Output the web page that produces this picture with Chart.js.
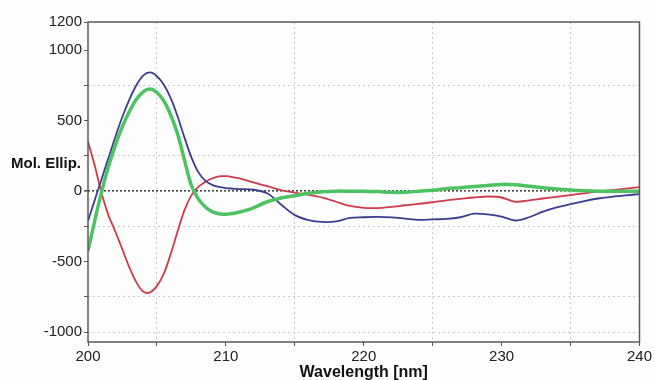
<!DOCTYPE html>
<html>
<head>
<meta charset="utf-8">
<script src="https://cdn.jsdelivr.net/npm/chart.js@4.4.1/dist/chart.umd.min.js"></script>
<style>
  html, body { margin: 0; padding: 0; background: #fdfdfd; }
  #wrap { width: 654px; height: 380px; position: relative; }
</style>
</head>
<body>
<div id="wrap"><canvas id="cd"></canvas></div>
<script>
// wavelength grid (nm) shared by all three spectra
const wavelengths = [200, 200.5, 201, 201.5, 202, 202.5, 203, 203.5, 204, 204.5, 205, 205.5, 206, 206.5, 207, 207.5, 208, 208.5, 209, 209.5, 210, 210.5, 211, 212, 213, 214, 215, 216, 217, 218, 219, 220, 221, 222, 223, 224, 225, 226, 227, 228, 229, 230, 231, 232, 233, 234, 235, 236, 237, 238, 239, 240];

const blueSeries = [-211, -60, 90, 240, 390, 530, 650, 750, 820, 842, 815, 755, 660, 530, 380, 240, 135, 75, 45, 30, 22, 18, 15, 10, -15, -95, -170, -205, -218, -215, -190, -185, -183, -186, -195, -204, -200, -197, -185, -160, -165, -180, -208, -185, -145, -115, -92, -70, -52, -40, -30, -21];

const greenSeries = [-423, -205, 0, 180, 330, 460, 565, 650, 705, 725, 700, 640, 540, 405, 220, 40, -55, -110, -145, -160, -164, -158, -148, -118, -75, -48, -32, -15, -5, 0, 0, 0, -3, -8, -8, 0, 7, 18, 25, 33, 40, 48, 45, 35, 25, 15, 8, 3, 0, 0, 0, 0];

const redSeries = [352, 176, -20, -175, -290, -415, -540, -645, -712, -718, -672, -585, -445, -285, -135, -30, 30, 65, 90, 105, 106, 100, 90, 62, 35, 8, -10, -25, -45, -75, -105, -118, -120, -112, -100, -90, -78, -65, -55, -45, -38, -45, -75, -65, -52, -40, -28, -15, -3, 8, 18, 28];

const yTicks = [-1000, -750, -500, -250, 0, 250, 500, 750, 1000, 1200];
const yLabelled = [-1000, -500, 0, 500, 1000, 1200];
const yGrid = [-1000, -750, -250, 250, 750];
const xTicks = [200, 205, 210, 215, 220, 225, 230, 235, 240];
const xLabelled = [200, 210, 220, 230, 240];
const xGrid = [205, 215, 225, 235];

const toPoints = (ys) => wavelengths.map((x, i) => ({ x: x, y: ys[i] }));

const FONT = "'Liberation Sans', Arial, sans-serif";

// frame round the plot + horizontal y title
const framePlugin = {
  id: 'frame',
  afterDraw(chart) {
    const { ctx, chartArea } = chart;
    ctx.save();
    ctx.strokeStyle = '#5a5a5a';
    ctx.lineWidth = 1.5;
    ctx.strokeRect(chartArea.left, chartArea.top, chartArea.right - chartArea.left, chartArea.bottom - chartArea.top);
    ctx.fillStyle = '#111';
    ctx.font = 'bold 15px ' + FONT;
    ctx.textAlign = 'left';
    ctx.textBaseline = 'middle';
    ctx.fillText('Mol. Ellip.', 11, 164);
    ctx.restore();
  }
};

const lineDs = (label, ys, color, width) => ({
  label: label,
  data: toPoints(ys),
  borderColor: color,
  borderWidth: width,
  pointRadius: 0,
  fill: false,
  tension: 0.35
});

new Chart(document.getElementById('cd'), {
  type: 'line',
  data: {
    datasets: [
      lineDs('green', greenSeries, '#4cc262', 3.5),
      lineDs('blue', blueSeries, '#3b3d8e', 1.8),
      lineDs('red', redSeries, '#d03a4c', 1.8)
    ]
  },
  options: {
    responsive: true,
    maintainAspectRatio: false,
    animation: false,
    layout: { padding: { top: 22, right: 14, left: 0, bottom: 0 } },
    plugins: { legend: { display: false }, tooltip: { enabled: false } },
    scales: {
      x: {
        type: 'linear',
        min: 200,
        max: 240,
        afterBuildTicks: (s) => { s.ticks = xTicks.map(v => ({ value: v })); },
        afterFit: (s) => { s.height = 38; },
        grid: {
          color: (c) => (c.tick && xGrid.includes(c.tick.value)) ? '#c9c9c9' : 'rgba(0,0,0,0)',
          tickColor: '#555',
          tickLength: 4,
          lineWidth: 1
        },
        border: { display: false, dash: (c) => c.tick ? [2, 3] : [] },
        ticks: {
          color: '#222',
          font: { size: 15, family: FONT },
          padding: 2,
          maxRotation: 0,
          callback: (v) => xLabelled.includes(v) ? String(v) : ''
        },
        title: {
          display: true,
          text: 'Wavelength [nm]',
          color: '#111',
          font: { size: 16, weight: 'bold', family: FONT },
          padding: { top: 0, bottom: -2 }
        }
      },
      y: {
        min: -1070,
        max: 1200,
        afterBuildTicks: (s) => { s.ticks = yTicks.map(v => ({ value: v })); },
        afterFit: (s) => { s.width = 88; },
        grid: {
          color: (c) => {
            if (!c.tick) return 'rgba(0,0,0,0)';
            if (c.tick.value === 0) return '#444';
            return yGrid.includes(c.tick.value) ? '#c9c9c9' : 'rgba(0,0,0,0)';
          },
          lineWidth: (c) => (c.tick && c.tick.value === 0) ? 1.6 : 1,
          tickColor: '#555',
          tickLength: 4
        },
        border: { display: false, dash: (c) => c.tick ? (c.tick.value === 0 ? [2, 2] : [2, 3]) : [] },
        ticks: {
          color: '#222',
          font: { size: 15, family: FONT },
          padding: 2,
          callback: (v) => yLabelled.includes(v) ? String(v) : ''
        }
      }
    }
  },
  plugins: [framePlugin]
});
</script>
</body>
</html>
